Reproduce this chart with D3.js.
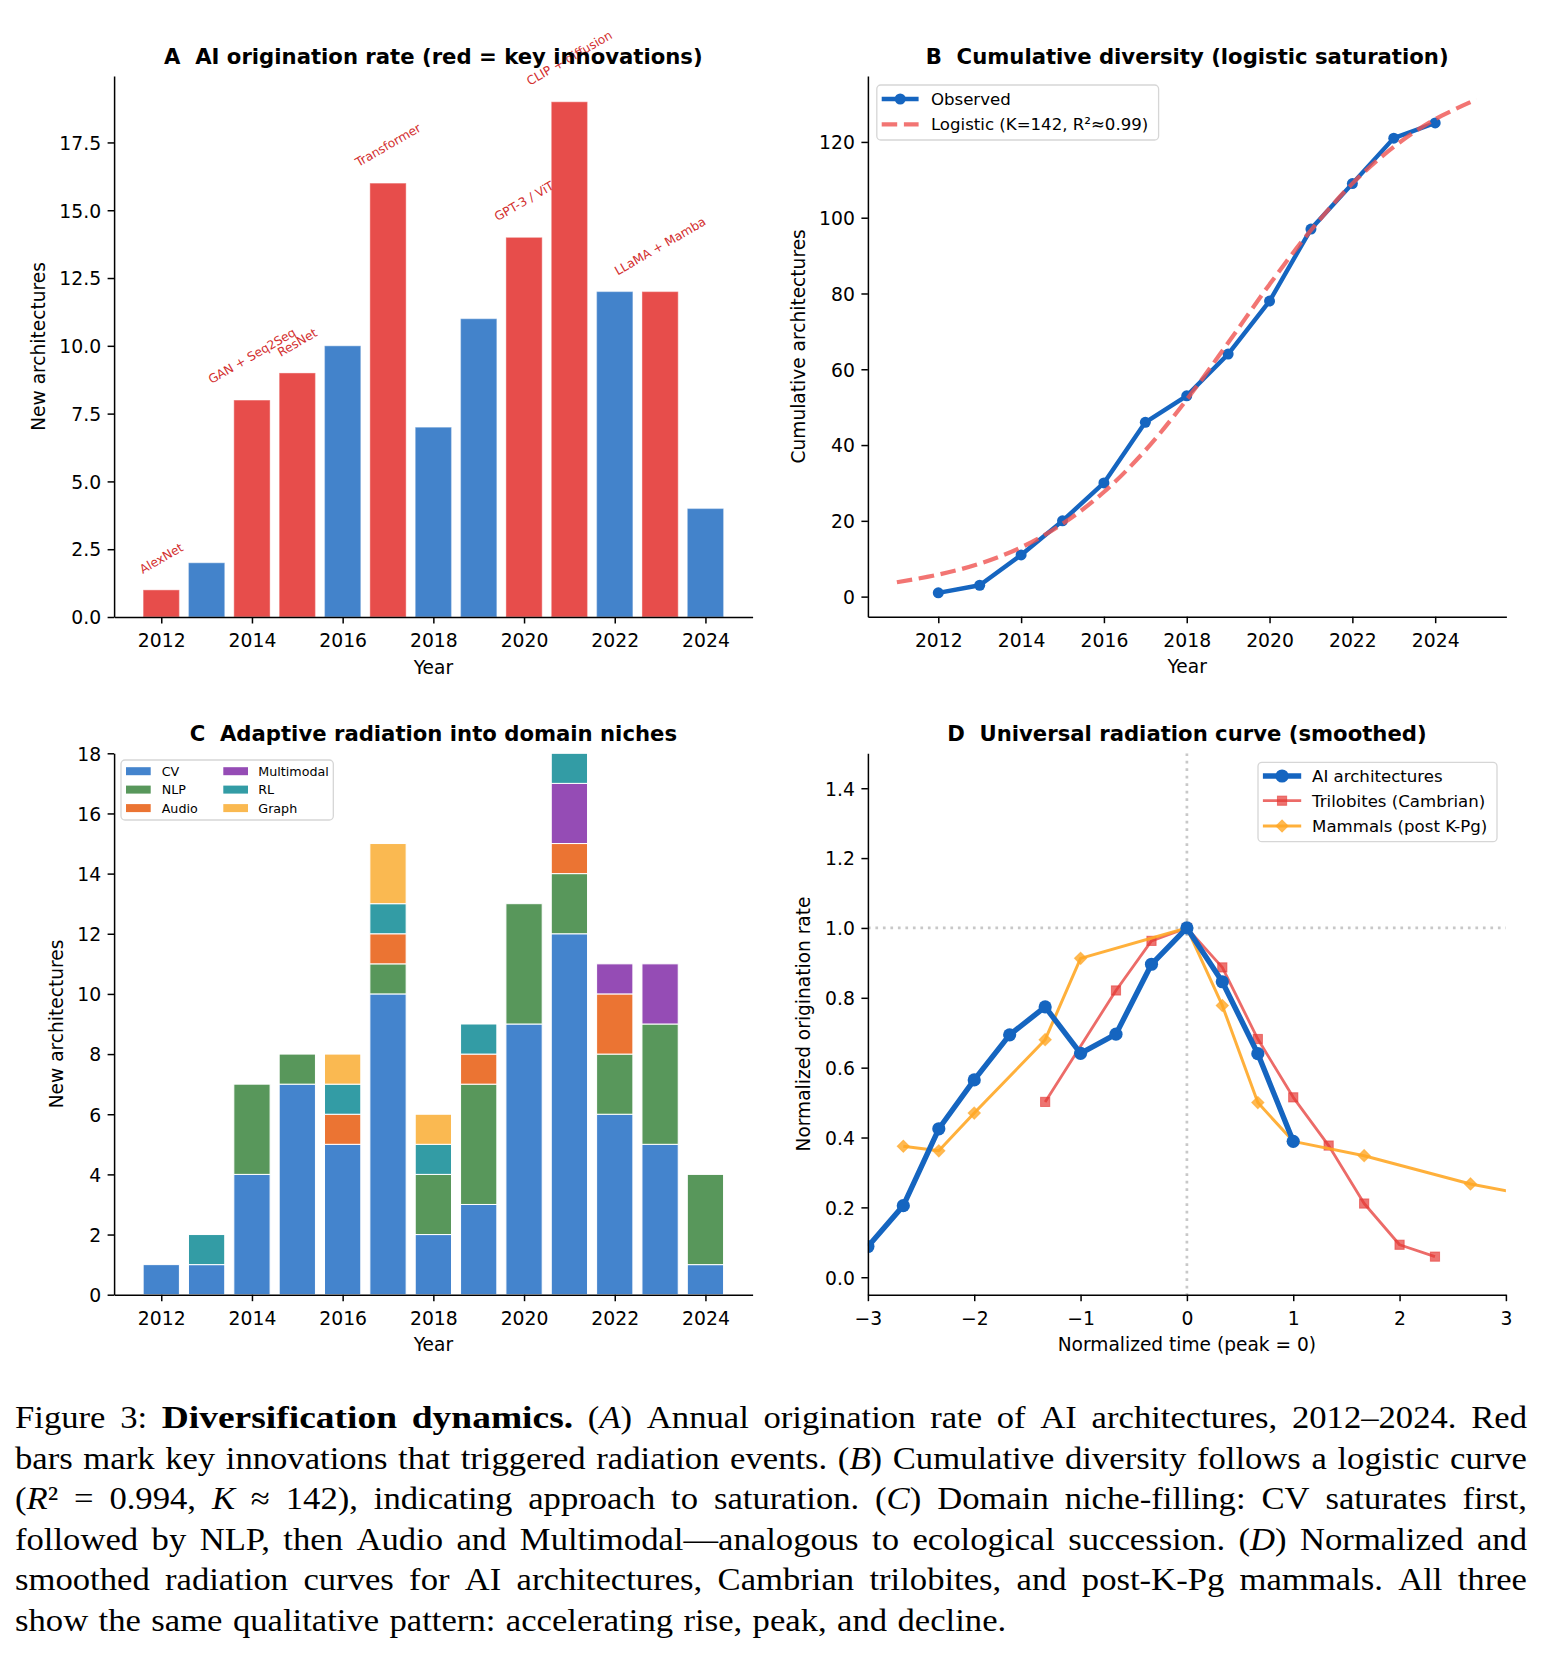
<!DOCTYPE html>
<html><head><meta charset="utf-8">
<script src="https://cdn.jsdelivr.net/npm/d3@7"></script>
<style>body{margin:0;background:#fff} svg{display:block} text{white-space:pre}</style>
</head><body><svg id="fig" width="1542" height="1655"></svg>
<script>
// ---------------- DATA ----------------
const years = [2012,2013,2014,2015,2016,2017,2018,2019,2020,2021,2022,2023,2024];
const originations = [1,2,8,9,10,16,7,11,14,19,12,12,4];
const keyInnovation = [true,false,true,true,false,true,false,false,true,true,false,true,false];
const innovationLabels = ["AlexNet","","GAN + Seq2Seq","ResNet","","Transformer","","","GPT-3 / ViT","CLIP + diffusion","","LLaMA + Mamba",""];
const yearTicks = [2012,2014,2016,2018,2020,2022,2024];
const rateTicksA = [0,2.5,5,7.5,10,12.5,15,17.5];

const cumulative = [1,3,11,20,30,46,53,64,78,97,109,121,125];
const logisticYears = [2011,2012,2013,2014,2015,2016,2017,2018,2019,2020,2021,2022,2023,2024,2025];
const logisticValues = [3.8,5.8,8.7,13.0,19.2,27.6,38.6,52.0,67.0,82.4,96.7,109.0,118.7,126.0,131.2];
const cumTicks = [0,20,40,60,80,100,120];

const domains = ["CV","NLP","Audio","Multimodal","RL","Graph"];
const cvCounts         = [1,1,4,7,5,10,2,3,9,12,6,5,1];
const nlpCounts        = [0,0,3,1,0,1,2,4,4,2,2,4,3];
const audioCounts      = [0,0,0,0,1,1,0,1,0,1,2,0,0];
const multimodalCounts = [0,0,0,0,0,0,0,0,0,2,1,2,0];
const rlCounts         = [0,1,0,0,1,1,1,1,0,1,0,0,0];
const graphCounts      = [0,0,0,0,1,2,1,0,0,0,0,0,0];
const countTicksC = [0,2,4,6,8,10,12,14,16,18];

const aiTime = [-3,-2.667,-2.333,-2,-1.667,-1.333,-1,-0.667,-0.333,0,0.333,0.667,1];
const aiRate = [0.088,0.205,0.425,0.565,0.694,0.774,0.641,0.696,0.896,1.0,0.846,0.640,0.389];
const triloTime = [-1.333,-0.667,-0.333,0,0.333,0.667,1,1.333,1.667,2,2.333];
const triloRate = [0.502,0.821,0.963,1.0,0.887,0.682,0.515,0.377,0.211,0.093,0.059];
const mammalTime = [-2.667,-2.333,-2,-1.333,-1,0,0.333,0.667,1,1.667,2.667,3.333];
const mammalRate = [0.375,0.362,0.470,0.680,0.913,1.0,0.778,0.500,0.389,0.348,0.267,0.228];
const timeTicksD = [-3,-2,-1,0,1,2,3];
const rateTicksD = [0,0.2,0.4,0.6,0.8,1.0,1.2,1.4];

const captionLines = [
 "Figure 3: #Diversification# #dynamics.# (*A*) Annual origination rate of AI architectures, 2012–2024. Red",
 "bars mark key innovations that triggered radiation events. (*B*) Cumulative diversity follows a logistic curve",
 "(*R*² = 0.994, *K* ≈ 142), indicating approach to saturation. (*C*) Domain niche-filling: CV saturates first,",
 "followed by NLP, then Audio and Multimodal—analogous to ecological succession. (*D*) Normalized and",
 "smoothed radiation curves for AI architectures, Cambrian trilobites, and post-K-Pg mammals. All three",
 "show the same qualitative pattern: accelerating rise, peak, and decline."
];

// ---------------- STYLE ----------------
const FONT = "DejaVu Sans";
const TICK_FS = 18.8, LABEL_FS = 18.6, TITLE_FS = 21.2, LEG_FS = 16.6, LEGC_FS = 12.7, ANN_FS = 12.2;
const C_BLUE = "#4383CB", C_RED = "#E74D4B";
const domainColors = {CV:"#4484CD", NLP:"#58975B", Audio:"#EB7433", Multimodal:"#954CB5", RL:"#339CA5", Graph:"#FAB951"};
const LINE_BLUE = "#1565C0";

const A = {x0:114.1, x1:752.6, y0:76, y1:617};
const B = {x0:867.9, x1:1506.4, y0:76, y1:616.7};
const C = {x0:114.1, x1:752.6, y0:753.3, y1:1294.7};
const D = {x0:867.9, x1:1505.9, y0:753.3, y1:1294.7};

const svg = d3.select("#fig");
svg.append("rect").attr("width",1542).attr("height",1655).attr("fill","#fff");
const defs = svg.append("defs");

function styleAxis(g){
  g.attr("font-family", null).attr("font-size", null);
  g.selectAll("path.domain").attr("stroke","#000").attr("stroke-width",1.5);
  g.selectAll(".tick line").attr("stroke","#000").attr("stroke-width",1.5);
  g.selectAll(".tick text").attr("font-family",FONT).attr("font-size",TICK_FS).attr("fill","#000");
}
function xAxis(box, scale, ticks, fmt){
  const g = svg.append("g").attr("transform",`translate(0,${box.y1})`)
    .call(d3.axisBottom(scale).tickValues(ticks).tickFormat(fmt).tickSize(6.5).tickSizeOuter(0).tickPadding(6.5));
  styleAxis(g);
  g.selectAll(".tick text").attr("y",30).attr("dy",0);
}
function yAxis(box, scale, ticks, fmt){
  const g = svg.append("g").attr("transform",`translate(${box.x0},0)`)
    .call(d3.axisLeft(scale).tickValues(ticks).tickFormat(fmt).tickSize(6.5).tickSizeOuter(0).tickPadding(6.5));
  styleAxis(g);
  g.selectAll(".tick text").attr("dy","0.36em");
}
function title(box, txt){
  svg.append("text").attr("x",(box.x0+box.x1)/2).attr("y",box.y0-12.3)
    .attr("text-anchor","middle").attr("font-family",FONT).attr("font-weight","bold")
    .attr("font-size",TITLE_FS).attr("fill","#000").attr("xml:space","preserve").text(txt);
}
function xlabel(box, txt){
  svg.append("text").attr("x",(box.x0+box.x1)/2).attr("y",box.y1+56.5)
    .attr("text-anchor","middle").attr("font-family",FONT).attr("font-size",LABEL_FS).attr("fill","#000").text(txt);
}
function ylabel(box, cx, txt){
  svg.append("text").attr("transform",`translate(${cx},${(box.y0+box.y1)/2}) rotate(-90)`)
    .attr("text-anchor","middle").attr("dy","0.35em").attr("font-family",FONT).attr("font-size",LABEL_FS)
    .attr("fill","#000").text(txt);
}
function clip(id, box){
  defs.append("clipPath").attr("id",id).append("rect")
    .attr("x",box.x0).attr("y",box.y0).attr("width",box.x1-box.x0).attr("height",box.y1-box.y0);
}
function legendBox(x0,y0,x1,y1){
  svg.append("rect").attr("x",x0).attr("y",y0).attr("width",x1-x0).attr("height",y1-y0)
    .attr("rx",4).attr("fill","#fff").attr("fill-opacity",0.8).attr("stroke","#d6d6d6").attr("stroke-width",1.3);
}

// ---------------- PANEL A ----------------
{
  const x = d3.scaleLinear().domain([2010.96, 2025.04]).range([A.x0, A.x1]);
  const y = d3.scaleLinear().domain([0, 19.95]).range([A.y1, A.y0]);
  const data = years.map((yr,i)=>({yr, v:originations[i], key:keyInnovation[i], lab:innovationLabels[i]}));
  svg.append("g").selectAll("rect").data(data).join("rect")
    .attr("x", d=>x(d.yr-0.4)).attr("width", x(0.8)-x(0))
    .attr("y", d=>y(d.v)).attr("height", d=>y(0)-y(d.v))
    .attr("fill", d=>d.key?C_RED:C_BLUE).attr("stroke","#fff").attr("stroke-opacity",0.35).attr("stroke-width",1.2);
  const ann = svg.append("g");
  data.filter(d=>d.key).forEach(d=>{
    const t = ann.append("text").attr("font-family",FONT).attr("font-size",ANN_FS)
      .attr("fill","#d32f2f").attr("text-anchor","middle").attr("dy","0.35em").text(d.lab);
    const w = t.node().getComputedTextLength();
    const h = ANN_FS*1.164;
    const H = w*Math.sin(Math.PI/6) + h*Math.cos(Math.PI/6);
    const cy = y(d.v+0.5) - H/2;
    t.attr("transform",`translate(${x(d.yr)},${cy}) rotate(-30)`);
  });
  xAxis(A, x, yearTicks, d3.format("d"));
  yAxis(A, y, rateTicksA, d3.format(".1f"));
  title(A, "A  AI origination rate (red = key innovations)");
  xlabel(A, "Year");
  ylabel(A, 38.4, "New architectures");
}

// ---------------- PANEL B ----------------
{
  const x = d3.scaleLinear().domain([2010.3, 2025.72]).range([B.x0, B.x1]);
  const y = d3.scaleLinear().domain([-5.3, 137.4]).range([B.y1, B.y0]);
  const obs = years.map((yr,i)=>[yr, cumulative[i]]);
  const fit = logisticYears.map((yr,i)=>[yr, logisticValues[i]]);
  const line = d3.line().x(d=>x(d[0])).y(d=>y(d[1]));
  svg.append("path").datum(obs).attr("d", line).attr("fill","none").attr("stroke",LINE_BLUE)
    .attr("stroke-width",4.4).attr("stroke-linejoin","round");
  svg.append("g").selectAll("circle").data(obs).join("circle")
    .attr("cx",d=>x(d[0])).attr("cy",d=>y(d[1])).attr("r",5.5).attr("fill",LINE_BLUE);
  svg.append("path").datum(fit).attr("d", line.curve(d3.curveCatmullRom)).attr("fill","none")
    .attr("stroke","#EF5350").attr("stroke-opacity",0.8).attr("stroke-width",4.2).attr("stroke-dasharray","15.5,6.7");
  xAxis(B, x, yearTicks, d3.format("d"));
  yAxis(B, y, cumTicks, d3.format("d"));
  title(B, "B  Cumulative diversity (logistic saturation)");
  xlabel(B, "Year");
  ylabel(B, 798, "Cumulative architectures");
  legendBox(876.8, 85, 1158.6, 140);
  svg.append("line").attr("x1",881.7).attr("x2",918.6).attr("y1",99).attr("y2",99)
    .attr("stroke",LINE_BLUE).attr("stroke-width",4.4);
  svg.append("circle").attr("cx",900.2).attr("cy",99).attr("r",5.5).attr("fill",LINE_BLUE);
  svg.append("line").attr("x1",881.7).attr("x2",918.6).attr("y1",124.3).attr("y2",124.3)
    .attr("stroke","#EF5350").attr("stroke-opacity",0.8).attr("stroke-width",4.2).attr("stroke-dasharray","15.5,6.7");
  [["Observed",99],["Logistic (K=142, R²≈0.99)",124.3]].forEach(([t,yy])=>{
    svg.append("text").attr("x",930.9).attr("y",yy).attr("dy","0.35em").attr("font-family",FONT)
      .attr("font-size",LEG_FS).attr("fill","#000").text(t);
  });
}

// ---------------- PANEL C ----------------
{
  const x = d3.scaleLinear().domain([2010.96, 2025.04]).range([C.x0, C.x1]);
  const y = d3.scaleLinear().domain([0, 18]).range([C.y1, C.y0]);
  const series = {CV:cvCounts, NLP:nlpCounts, Audio:audioCounts, Multimodal:multimodalCounts, RL:rlCounts, Graph:graphCounts};
  const rows = years.map((yr,i)=>{ const o={yr}; domains.forEach(k=>o[k]=series[k][i]); return o; });
  const stack = d3.stack().keys(domains)(rows);
  const g = svg.append("g");
  stack.forEach(layer=>{
    g.append("g").selectAll("rect").data(layer.filter(d=>d[1]>d[0])).join("rect")
      .attr("x", d=>x(d.data.yr-0.4)).attr("width", x(0.8)-x(0))
      .attr("y", d=>y(d[1])).attr("height", d=>y(d[0])-y(d[1]))
      .attr("fill", domainColors[layer.key]).attr("stroke","#fff").attr("stroke-width",1);
  });
  xAxis(C, x, yearTicks, d3.format("d"));
  yAxis(C, y, countTicksC, d3.format("d"));
  title(C, "C  Adaptive radiation into domain niches");
  xlabel(C, "Year");
  ylabel(C, 56.6, "New architectures");
  legendBox(121, 760, 333.3, 820);
  const rowsY = [771.2, 789.6, 808.1];
  domains.forEach((k,i)=>{
    const col = Math.floor(i/3), r = i%3;
    const px = col===0 ? 126 : 223.3, tx = col===0 ? 161.7 : 258.3;
    svg.append("rect").attr("x",px).attr("y",rowsY[r]-4).attr("width",24.7).attr("height",8)
      .attr("fill",domainColors[k]);
    svg.append("text").attr("x",tx).attr("y",rowsY[r]).attr("dy","0.35em").attr("font-family",FONT)
      .attr("font-size",LEGC_FS).attr("fill","#000").text(k);
  });
}

// ---------------- PANEL D ----------------
{
  const x = d3.scaleLinear().domain([-3, 3]).range([D.x0, D.x1]);
  const y = d3.scaleLinear().domain([-0.05, 1.5]).range([D.y1, D.y0]);
  clip("clipD", D);
  const gd = svg.append("g").attr("clip-path","url(#clipD)");
  gd.append("line").attr("x1",D.x0).attr("x2",D.x1).attr("y1",y(1)).attr("y2",y(1))
    .attr("stroke","#c8c8c8").attr("stroke-width",2.7).attr("stroke-dasharray","2.7,4.8");
  gd.append("line").attr("x1",x(0)).attr("x2",x(0)).attr("y1",D.y0).attr("y2",D.y1)
    .attr("stroke","#c8c8c8").attr("stroke-width",2.7).attr("stroke-dasharray","2.7,4.8");
  const line = d3.line().x(d=>x(d[0])).y(d=>y(d[1]));
  const tri = triloTime.map((t,i)=>[t, triloRate[i]]);
  const mam = mammalTime.map((t,i)=>[t, mammalRate[i]]);
  const ai = aiTime.map((t,i)=>[t, aiRate[i]]);
  const RED = "#E53935", ORG = "#FFA726";
  gd.append("path").datum(tri).attr("d",line).attr("fill","none").attr("stroke",RED).attr("stroke-opacity",0.75)
    .attr("stroke-width",2.8).attr("stroke-linejoin","round");
  gd.append("g").selectAll("rect").data(tri).join("rect")
    .attr("x",d=>x(d[0])-4.6).attr("y",d=>y(d[1])-4.6).attr("width",9.2).attr("height",9.2)
    .attr("fill",RED).attr("fill-opacity",0.7).attr("stroke",RED).attr("stroke-opacity",0.6).attr("stroke-width",1);
  gd.append("path").datum(mam).attr("d",line).attr("fill","none").attr("stroke",ORG).attr("stroke-opacity",0.9)
    .attr("stroke-width",3).attr("stroke-linejoin","round");
  gd.append("g").selectAll("rect").data(mam).join("rect")
    .attr("x",-4.35).attr("y",-4.35).attr("width",8.7).attr("height",8.7)
    .attr("transform",d=>`translate(${x(d[0])},${y(d[1])}) rotate(45)`)
    .attr("fill",ORG).attr("fill-opacity",0.8).attr("stroke",ORG).attr("stroke-opacity",0.6).attr("stroke-width",1);
  gd.append("path").datum(ai).attr("d",line).attr("fill","none").attr("stroke",LINE_BLUE)
    .attr("stroke-width",5.4).attr("stroke-linejoin","round");
  gd.append("g").selectAll("circle").data(ai).join("circle")
    .attr("cx",d=>x(d[0])).attr("cy",d=>y(d[1])).attr("r",6.6).attr("fill",LINE_BLUE);
  xAxis(D, x, timeTicksD, d=> d<0 ? "−"+Math.abs(d) : String(d));
  yAxis(D, y, rateTicksD, d3.format(".1f"));
  title(D, "D  Universal radiation curve (smoothed)");
  xlabel(D, "Normalized time (peak = 0)");
  ylabel(D, 803, "Normalized origination rate");
  legendBox(1258, 762.3, 1497, 841.7);
  const hx0 = 1262.9, hx1 = 1301.2, hm = (hx0+hx1)/2;
  const ly = [776, 800.7, 826];
  svg.append("line").attr("x1",hx0).attr("x2",hx1).attr("y1",ly[0]).attr("y2",ly[0]).attr("stroke",LINE_BLUE).attr("stroke-width",5.4);
  svg.append("circle").attr("cx",hm).attr("cy",ly[0]).attr("r",6.6).attr("fill",LINE_BLUE);
  svg.append("line").attr("x1",hx0).attr("x2",hx1).attr("y1",ly[1]).attr("y2",ly[1]).attr("stroke",RED).attr("stroke-opacity",0.75).attr("stroke-width",2.8);
  svg.append("rect").attr("x",hm-4.6).attr("y",ly[1]-4.6).attr("width",9.2).attr("height",9.2)
    .attr("fill",RED).attr("fill-opacity",0.7).attr("stroke",RED).attr("stroke-opacity",0.6);
  svg.append("line").attr("x1",hx0).attr("x2",hx1).attr("y1",ly[2]).attr("y2",ly[2]).attr("stroke",ORG).attr("stroke-opacity",0.9).attr("stroke-width",3);
  svg.append("rect").attr("x",-4.35).attr("y",-4.35).attr("width",8.7).attr("height",8.7)
    .attr("transform",`translate(${hm},${ly[2]}) rotate(45)`)
    .attr("fill",ORG).attr("fill-opacity",0.8).attr("stroke",ORG).attr("stroke-opacity",0.6);
  [["AI architectures",ly[0]],["Trilobites (Cambrian)",ly[1]],["Mammals (post K-Pg)",ly[2]]].forEach(([t,yy])=>{
    svg.append("text").attr("x",1312.1).attr("y",yy).attr("dy","0.35em").attr("font-family",FONT)
      .attr("font-size",LEG_FS).attr("fill","#000").text(t);
  });
}

// ---------------- CAPTION ----------------
{
  let capFS = 31.5;
  const SX = 1.1, SXB = 1.19;
  const X0 = 15, X1 = 1527, BASE = 1428, LEAD = 40.5;
  const g = svg.append("g");
  function build(fs){
    g.selectAll("*").remove();
    return captionLines.map((line,i)=>{
      const words = line.split(" ");
      const scales = [];
      const nodes = words.map(w=>{
        const t = g.append("text").attr("font-family","Liberation Serif")
          .attr("font-size",fs).attr("fill","#000");
        scales.push(w[0]==="#" ? SXB : SX);
        w.split(/(\*[^*]+\*|#[^#]+#)/).filter(s=>s).forEach(s=>{
          const ts = t.append("tspan");
          if (s[0]==="*") ts.text(s.slice(1,-1)).attr("font-style","italic");
          else if (s[0]==="#") ts.text(s.slice(1,-1)).attr("font-weight","bold");
          else ts.text(s);
        });
        return t;
      });
      return {nodes, scales, y: BASE+i*LEAD, widths: nodes.map((n,k)=>n.node().getComputedTextLength()*scales[k])};
    });
  }
  let lines = build(capFS);
  let worst = d3.max(lines.slice(0,-1), l => d3.sum(l.widths) + (l.nodes.length-1)*0.2*capFS);
  if (worst > X1-X0) { capFS *= (X1-X0)/worst; lines = build(capFS); }
  lines.forEach((l,i)=>{
    const total = d3.sum(l.widths);
    const justify = i < lines.length-1;
    const gap = justify ? (X1-X0-total)/(l.nodes.length-1) : capFS*0.33;
    let xx = X0;
    l.nodes.forEach((n,k)=>{ n.attr("transform",`translate(${xx},${l.y}) scale(${l.scales[k]},1)`); xx += l.widths[k] + gap; });
  });
}
</script></body></html>
